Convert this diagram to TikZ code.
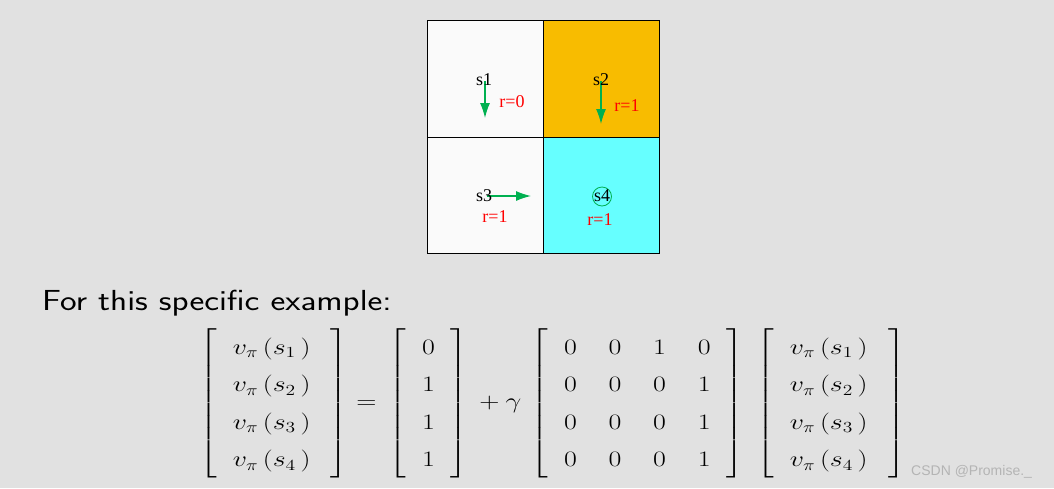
\RequirePackage{fix-cm}
\documentclass[tikz,border=0pt]{standalone}
\usepackage{fontspec}
\usepackage{amsmath}
\usepackage{graphicx}
\usetikzlibrary{arrows.meta}
\newfontfamily\timesf{Liberation Serif}
\newfontfamily\arialf{Liberation Sans}
\definecolor{bg}{HTML}{E1E1E1}
\definecolor{cellw}{HTML}{FAFAFA}
\definecolor{cello}{HTML}{F8BC00}
\definecolor{cellc}{HTML}{66FFFF}
\definecolor{grn}{HTML}{00B050}
\definecolor{wm}{HTML}{B4B4B4}
\newcommand{\vpi}[1]{v_\pi\,(s_{#1}\,)\,}
\begin{document}
\begin{tikzpicture}[x=1pt,y=-1pt,
 cell/.style={draw=black, line width=1pt, minimum width=116pt, minimum height=116.5pt, inner sep=0pt, outer sep=0pt},
 lab/.style={font=\timesf\fontsize{18}{18}\selectfont, inner sep=0pt},
 rew/.style={lab, text=red},
 act/.style={draw=grn, line width=1.2pt, -{Latex[length=15pt,width=10pt]}}]
\useasboundingbox (0,0) rectangle (1054,488);
\fill[bg] (0,0) rectangle (1054,488);
% grid cells
\node[cell, fill=cellw] (c1) at (485,79) {};
\node[cell, fill=cello] (c2) at (601,79) {};
\node[cell, fill=cellw] (c3) at (485,195.5) {};
\node[cell, fill=cellc] (c4) at (601,195.5) {};
% arrows
\coordinate (a1s) at (485,81);
\coordinate (a1e) at (485,118);
\coordinate (a2s) at (601,81);
\coordinate (a2e) at (601,124);
\coordinate (a3s) at (487,196);
\coordinate (a3e) at (531,196);
\draw[act] (a1s) -- (a1e);
\draw[act] (a2s) -- (a2e);
\draw[act] (a3s) -- (a3e);
% circle at s4
\node[draw=grn, line width=0.8pt, circle, minimum size=19pt, inner sep=0pt] (stay) at (602,196.5) {};
% labels
\node[lab] (s1) at (484,80) {s1};
\node[rew] (r1) at (512,102) {r=0};
\node[lab] (s2) at (601,80) {s2};
\node[rew] (r2) at (627,106) {r=1};
\node[lab] (s3) at (484,196) {s3};
\node[rew] (r3) at (495,217) {r=1};
\node[lab] (s4) at (602,196) {s4};
\node[rew] (r4) at (600,220) {r=1};
% text
\node[anchor=base west, inner sep=0pt] (title) at (42,310.5) {\scalebox{1.217}[1]{\sffamily\fontsize{29}{29}\selectfont For this specific example:}};
\node[inner sep=0pt] (eq) at (552.5,403) {\scalebox{1.27}[1]{\fontsize{22}{26.4}\selectfont
\renewcommand{\arraystretch}{1.42}\setlength{\arraycolsep}{12.5pt}%
\setlength{\delimitershortfall}{8pt}%
$\displaystyle
\left[\begin{array}{c} \vpi1\\ \vpi2\\ \vpi3\\ \vpi4\end{array}\right]
=\,
\left[\begin{array}{c}0\\1\\1\\1\end{array}\right]
\,+\gamma\,
\left[\begin{array}{cccc}0&0&1&0\\0&0&0&1\\0&0&0&1\\0&0&0&1\end{array}\right]
\;
\left[\begin{array}{c} \vpi1\\ \vpi2\\ \vpi3\\ \vpi4\end{array}\right]$}};
\node[anchor=base west, inner sep=0pt, text=wm, font=\arialf\fontsize{14}{14}\selectfont] (wmk) at (911,475) {CSDN @Promise.\_};
\end{tikzpicture}
\end{document}
